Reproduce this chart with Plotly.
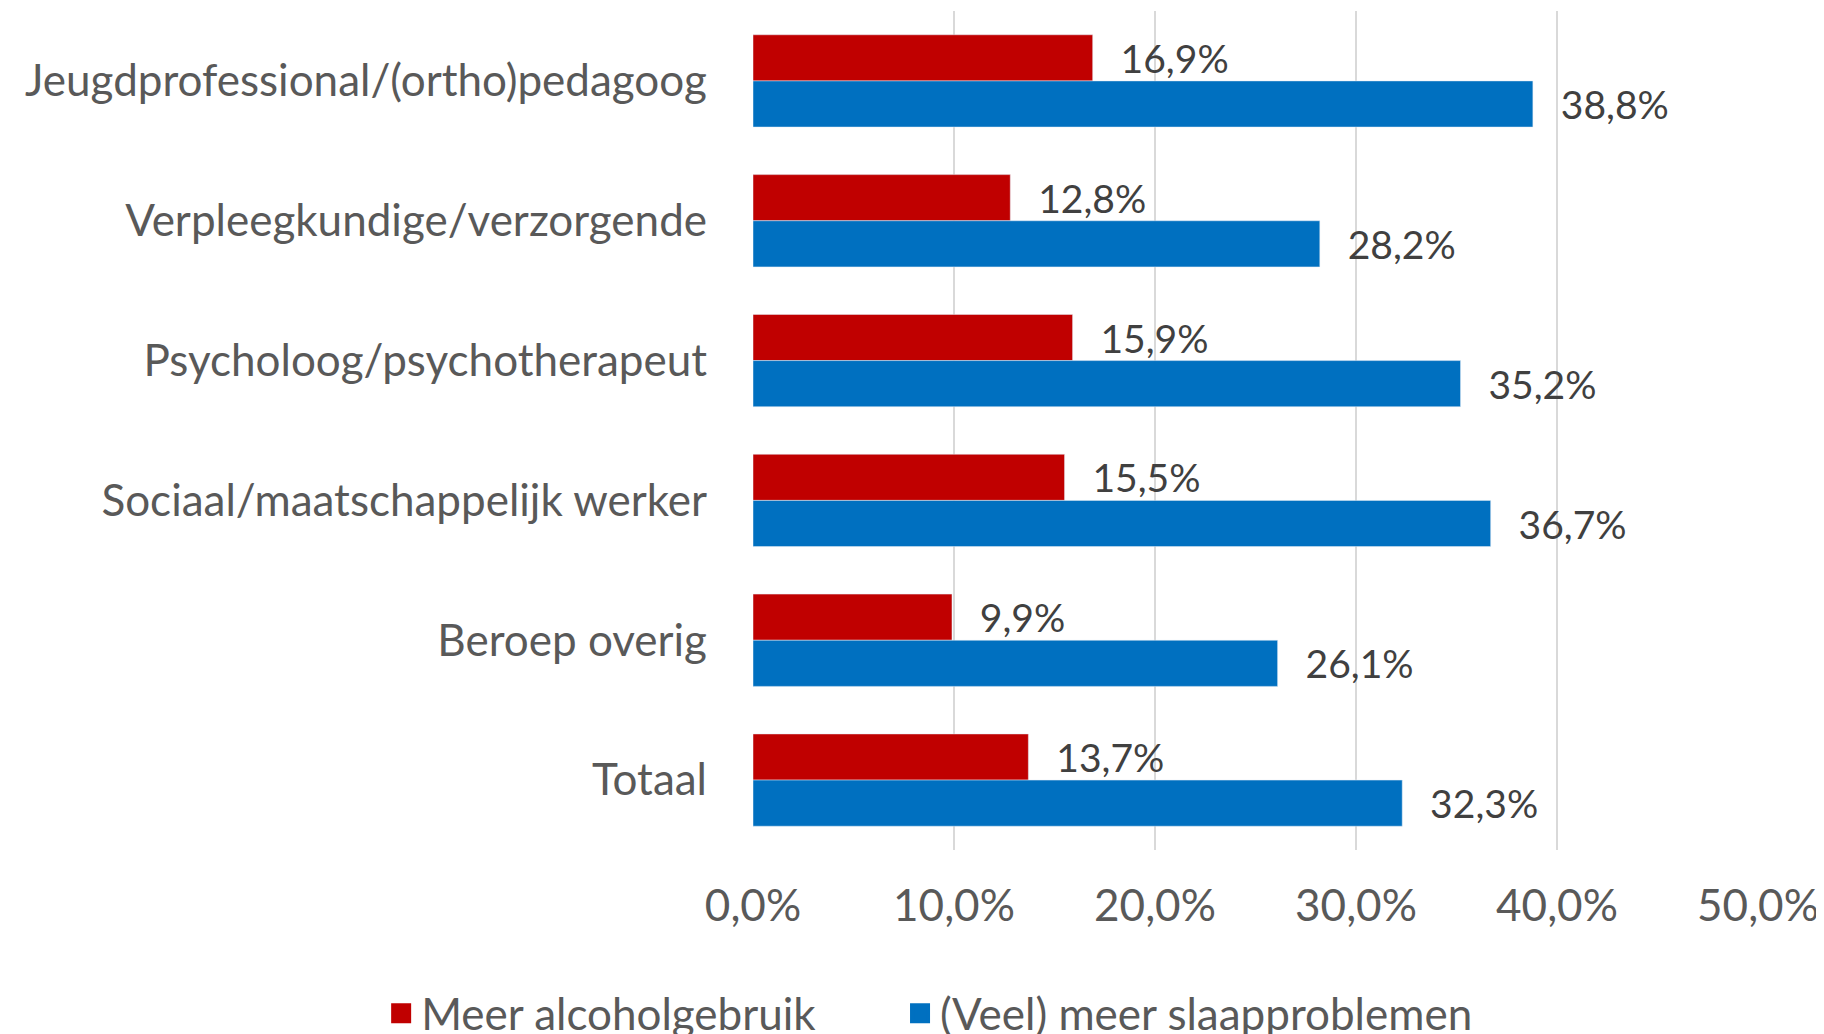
import plotly.graph_objects as go

# categories, top to bottom as in the chart
beroepen = [
    "Jeugdprofessional/(ortho)pedagoog",
    "Verpleegkundige/verzorgende",
    "Psycholoog/psychotherapeut",
    "Sociaal/maatschappelijk werker",
    "Beroep overig",
    "Totaal",
]
alcohol = [16.9, 12.8, 15.9, 15.5, 9.9, 13.7]
slaap = [38.8, 28.2, 35.2, 36.7, 26.1, 32.3]
xticks = [0, 10, 20, 30, 40, 50]
xticktext = [f"{v:.1f}%".replace(".", ",") for v in xticks]

series = [
    ("Meer alcoholgebruik", alcohol, "#C00000", "legend"),
    ("(Veel) meer slaapproblemen", slaap, "#0070C0", "legend2"),
]

grey = "#595959"
fnt = "Lato"
fs = 44

fig = go.Figure()
for name, vals, col, lg in series:
    fig.add_trace(go.Bar(
        y=beroepen, x=vals, orientation="h", name=name,
        marker_color=col, showlegend=False,
        texttemplate="\u00a0\u00a0\u2009%{x:.1f}%", textposition="outside",
        textfont=dict(family=fnt, size=fs, color="#404040"),
        cliponaxis=False,
    ))
# legend entries with bigger square symbols, one legend box each
for name, vals, col, lg in series:
    fig.add_trace(go.Scatter(
        x=[None], y=[None], mode="markers", name=name, legend=lg,
        marker=dict(symbol="square", size=16, color=col,
                    line=dict(color=col, width=4)),
    ))

leg = dict(orientation="h", xanchor="left", y=-0.1526, yanchor="top",
           font=dict(family=fnt, size=fs, color=grey), itemwidth=30)

# page body has an 8px margin, so the figure is 8px smaller than the window
fig.update_layout(
    width=1816, height=1026,
    margin=dict(l=745, r=66, t=3, b=184, autoexpand=False),
    barmode="group", bargap=0.34, bargroupgap=0,
    separators=",.",
    plot_bgcolor="white", paper_bgcolor="white",
    font=dict(family=fnt, size=fs, color=grey),
    showlegend=True,
    legend=dict(leg, x=-0.370),
    legend2=dict(leg, x=0.1463),
)
fig.update_xaxes(range=[0, 50], tickvals=xticks, ticktext=xticktext,
                 showgrid=True, gridcolor="#D9D9D9", gridwidth=1.5,
                 zeroline=False, showline=False, ticks="",
                 ticklabelstandoff=26)
fig.update_yaxes(autorange="reversed", showgrid=False, showline=False,
                 ticks="", ticklabelstandoff=45)

fig.write_html("out.html")
